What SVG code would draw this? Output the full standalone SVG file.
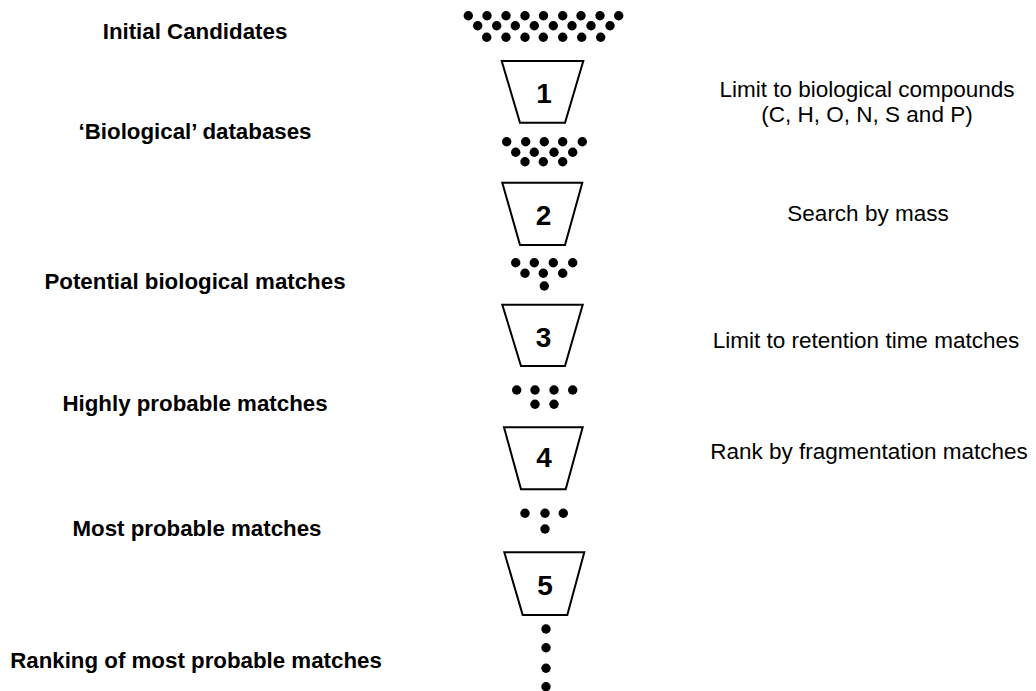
<svg xmlns="http://www.w3.org/2000/svg" width="1036" height="691" viewBox="0 0 1036 691">
<style>
.lbl{font-family:"Liberation Sans",Arial,sans-serif;font-weight:bold;font-size:22.3px;fill:#000;text-anchor:middle}
.desc{font-family:"Liberation Sans",Arial,sans-serif;font-size:22.5px;fill:#000;text-anchor:middle}
.num{font-family:"Liberation Sans",Arial,sans-serif;font-weight:bold;font-size:28px;fill:#000;text-anchor:middle}
.fun{fill:#fff;stroke:#000;stroke-width:2;stroke-linejoin:miter}
.dot{fill:#000}
</style>
<rect width="1036" height="691" fill="#fff"/>
<g id="left-labels">
<text class="lbl" x="195" y="39">Initial Candidates</text>
<text class="lbl" x="195" y="139">‘Biological’ databases</text>
<text class="lbl" x="195" y="289">Potential biological matches</text>
<text class="lbl" x="195" y="411">Highly probable matches</text>
<text class="lbl" x="197" y="536">Most probable matches</text>
<text class="lbl" x="196" y="668">Ranking of most probable matches</text>
</g>
<g id="right-labels">
<text class="desc" x="867" y="97">Limit to biological compounds</text>
<text class="desc" x="867" y="122">(C, H, O, N, S and P)</text>
<text class="desc" x="868" y="221">Search by mass</text>
<text class="desc" x="866" y="348">Limit to retention time matches</text>
<text class="desc" x="869" y="459">Rank by fragmentation matches</text>
</g>
<g id="dots0" class="dot">
<circle cx="468.3" cy="15.7" r="4.7"/><circle cx="487" cy="15.7" r="4.7"/><circle cx="506" cy="15.7" r="4.7"/><circle cx="525" cy="15.7" r="4.7"/><circle cx="543.5" cy="15.7" r="4.7"/><circle cx="562.7" cy="15.7" r="4.7"/><circle cx="581" cy="15.7" r="4.7"/><circle cx="600" cy="15.7" r="4.7"/><circle cx="618.7" cy="15.7" r="4.7"/>
<circle cx="477.7" cy="25.7" r="4.7"/><circle cx="496.7" cy="25.7" r="4.7"/><circle cx="515.3" cy="25.7" r="4.7"/><circle cx="534.3" cy="25.7" r="4.7"/><circle cx="553.3" cy="25.7" r="4.7"/><circle cx="572" cy="25.7" r="4.7"/><circle cx="591" cy="25.7" r="4.7"/><circle cx="610" cy="25.7" r="4.7"/>
<circle cx="486.7" cy="37.3" r="4.7"/><circle cx="506" cy="37.3" r="4.7"/><circle cx="525" cy="37.3" r="4.7"/><circle cx="543.3" cy="37.3" r="4.7"/><circle cx="562.7" cy="37.3" r="4.7"/><circle cx="581.7" cy="37.3" r="4.7"/><circle cx="600.7" cy="37.3" r="4.7"/>
</g>
<g id="funnel1">
<polygon class="fun" points="501.7,61 583.3,61 565,122.7 520,122.7"/>
<text class="num" x="544" y="103">1</text>
</g>
<g id="dots1" class="dot">
<circle cx="506.7" cy="141.7" r="4.7"/><circle cx="525.7" cy="141.7" r="4.7"/><circle cx="544.3" cy="141.7" r="4.7"/><circle cx="562.7" cy="141.7" r="4.7"/><circle cx="582.3" cy="141.7" r="4.7"/>
<circle cx="515.7" cy="152.3" r="4.7"/><circle cx="534.3" cy="152.3" r="4.7"/><circle cx="554" cy="152.3" r="4.7"/><circle cx="572.7" cy="152.3" r="4.7"/>
<circle cx="525" cy="161.7" r="4.7"/><circle cx="543.3" cy="161.7" r="4.7"/><circle cx="562.7" cy="161.7" r="4.7"/>
</g>
<g id="funnel2">
<polygon class="fun" points="502.3,182.7 582.3,182.7 565,245 520,245"/>
<text class="num" x="543.5" y="225">2</text>
</g>
<g id="dots2" class="dot">
<circle cx="515.7" cy="262.7" r="4.7"/><circle cx="534.3" cy="262.7" r="4.7"/><circle cx="553.3" cy="262.7" r="4.7"/><circle cx="572.7" cy="262.7" r="4.7"/>
<circle cx="525" cy="273.3" r="4.7"/><circle cx="543.3" cy="273.3" r="4.7"/><circle cx="562.7" cy="273.3" r="4.7"/>
<circle cx="544.3" cy="286" r="4.7"/>
</g>
<g id="funnel3">
<polygon class="fun" points="502.3,304.7 582.7,304.7 565,366 521,366"/>
<text class="num" x="543.5" y="346.5">3</text>
</g>
<g id="dots3" class="dot">
<circle cx="516.7" cy="390" r="4.7"/><circle cx="535" cy="390" r="4.7"/><circle cx="554" cy="390" r="4.7"/><circle cx="572.7" cy="390" r="4.7"/>
<circle cx="535" cy="404.3" r="4.7"/><circle cx="554" cy="404.3" r="4.7"/>
</g>
<g id="funnel4">
<polygon class="fun" points="504,427.3 582.7,427.3 565.7,489.3 521,489.3"/>
<text class="num" x="544" y="467">4</text>
</g>
<g id="dots4" class="dot">
<circle cx="525" cy="513.3" r="4.7"/><circle cx="545" cy="513.3" r="4.7"/><circle cx="563.3" cy="513.3" r="4.7"/>
<circle cx="545" cy="529" r="4.7"/>
</g>
<g id="funnel5">
<polygon class="fun" points="504.3,552.3 584.3,552.3 567.3,615 522.7,615"/>
<text class="num" x="545" y="595">5</text>
</g>
<g id="dots5" class="dot">
<circle cx="546" cy="629" r="4.7"/><circle cx="546" cy="647.7" r="4.7"/><circle cx="546" cy="668.3" r="4.7"/><circle cx="546" cy="686.7" r="4.7"/>
</g>
</svg>
